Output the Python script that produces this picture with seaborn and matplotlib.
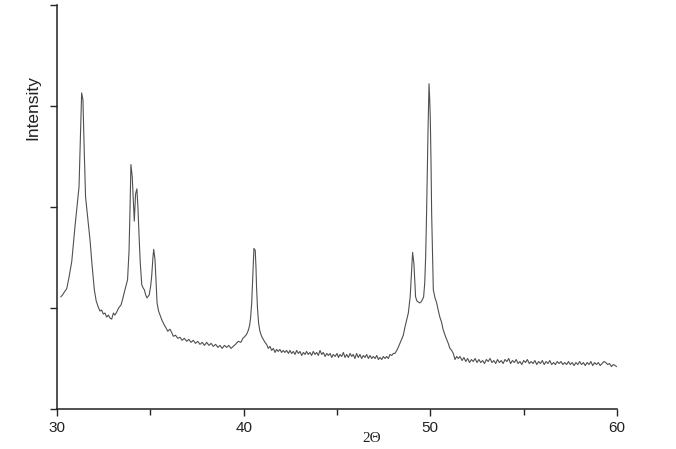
import matplotlib
matplotlib.use("Agg")
import matplotlib.pyplot as plt
import seaborn as sns

# XRD pattern, values (arbitrary intensity units)
two_theta = [
    30.20, 30.30, 30.40, 30.52, 30.64, 30.79, 30.96, 31.08, 31.18, 31.25,
    31.32, 31.39, 31.46, 31.53, 31.65, 31.77, 31.88, 32.00, 32.10, 32.21,
    32.30, 32.39, 32.48, 32.57, 32.66, 32.75, 32.84, 32.93, 33.02, 33.10,
    33.20, 33.30, 33.43, 33.52, 33.64, 33.78, 33.86, 33.92, 33.96, 34.03,
    34.09, 34.14, 34.21, 34.28, 34.34, 34.39, 34.46, 34.54, 34.61, 34.68,
    34.75, 34.82, 34.94, 35.02, 35.07, 35.14, 35.18, 35.25, 35.31, 35.36,
    35.44, 35.52, 35.62, 35.75, 35.85, 35.93, 36.05, 36.14, 36.23, 36.35,
    36.47, 36.59, 36.70, 36.82, 36.95, 37.06, 37.18, 37.30, 37.42, 37.54,
    37.66, 37.78, 37.90, 38.02, 38.14, 38.26, 38.37, 38.50, 38.62, 38.73,
    38.85, 38.97, 39.09, 39.20, 39.32, 39.44, 39.56, 39.71, 39.85, 39.96,
    40.07, 40.16, 40.25, 40.32, 40.37, 40.43, 40.48, 40.52, 40.55, 40.62,
    40.66, 40.69, 40.74, 40.80, 40.87, 40.96, 41.05, 41.14, 41.23, 41.32,
    41.41, 41.50, 41.59, 41.68, 41.76, 41.85, 41.94, 42.03, 42.12, 42.21,
    42.30, 42.40, 42.48, 42.57, 42.66, 42.75, 42.84, 42.93, 43.02, 43.11,
    43.20, 43.29, 43.37, 43.46, 43.55, 43.64, 43.73, 43.82, 43.91, 44.00,
    44.09, 44.18, 44.27, 44.36, 44.45, 44.54, 44.63, 44.72, 44.80, 44.90,
    45.00, 45.08, 45.16, 45.25, 45.34, 45.43, 45.52, 45.61, 45.70, 45.79,
    45.87, 45.96, 46.05, 46.14, 46.23, 46.32, 46.41, 46.50, 46.59, 46.68,
    46.77, 46.86, 46.95, 47.04, 47.13, 47.22, 47.30, 47.40, 47.48, 47.57,
    47.66, 47.75, 47.84, 47.93, 48.02, 48.10, 48.20, 48.28, 48.37, 48.46,
    48.55, 48.64, 48.73, 48.82, 48.92, 49.00, 49.05, 49.12, 49.21, 49.28,
    49.36, 49.43, 49.50, 49.57, 49.64, 49.70, 49.75, 49.80, 49.84, 49.88,
    49.93, 49.97, 50.00, 50.04, 50.07, 50.12, 50.16, 50.25, 50.34, 50.42,
    50.51, 50.60, 50.68, 50.75, 50.85, 50.96, 51.05, 51.14, 51.23, 51.32,
    51.41, 51.50, 51.59, 51.70, 51.80, 51.90, 52.00, 52.10, 52.20, 52.30,
    52.40, 52.50, 52.60, 52.70, 52.80, 52.90, 53.00, 53.10, 53.20, 53.30,
    53.40, 53.50, 53.60, 53.70, 53.80, 53.90, 54.00, 54.10, 54.20, 54.30,
    54.40, 54.50, 54.60, 54.70, 54.80, 54.90, 55.00, 55.10, 55.20, 55.30,
    55.40, 55.50, 55.60, 55.70, 55.80, 55.90, 56.00, 56.10, 56.20, 56.30,
    56.40, 56.50, 56.60, 56.70, 56.80, 56.90, 57.00, 57.10, 57.20, 57.30,
    57.40, 57.50, 57.60, 57.70, 57.80, 57.90, 58.00, 58.10, 58.20, 58.30,
    58.40, 58.50, 58.60, 58.70, 58.80, 58.90, 59.00, 59.10, 59.20, 59.30,
    59.40, 59.50, 59.60, 59.70, 59.80, 59.90, 59.98,
]

intensity = [
    1.11, 1.13, 1.16, 1.19, 1.30, 1.46, 1.80, 2.02, 2.20, 2.65,
    3.13, 3.06, 2.55, 2.10, 1.88, 1.67, 1.42, 1.18, 1.07, 1.01,
    0.97, 0.98, 0.94, 0.95, 0.91, 0.93, 0.90, 0.89, 0.95, 0.93,
    0.96, 1.00, 1.03, 1.09, 1.18, 1.28, 1.57, 2.05, 2.42, 2.30,
    2.05, 1.86, 2.13, 2.18, 1.98, 1.74, 1.45, 1.23, 1.20, 1.18,
    1.13, 1.10, 1.13, 1.22, 1.31, 1.50, 1.58, 1.48, 1.25, 1.05,
    0.97, 0.93, 0.88, 0.83, 0.80, 0.77, 0.79, 0.76, 0.72, 0.73,
    0.70, 0.71, 0.68, 0.70, 0.67, 0.69, 0.66, 0.68, 0.65, 0.67,
    0.64, 0.66, 0.63, 0.66, 0.63, 0.65, 0.62, 0.64, 0.61, 0.63,
    0.60, 0.63, 0.61, 0.63, 0.60, 0.62, 0.64, 0.67, 0.66, 0.70,
    0.72, 0.74, 0.78, 0.83, 0.90, 1.05, 1.28, 1.48, 1.59, 1.57,
    1.40, 1.21, 1.00, 0.85, 0.77, 0.72, 0.69, 0.66, 0.64, 0.60,
    0.62, 0.58, 0.60, 0.56, 0.59, 0.57, 0.59, 0.56, 0.58, 0.56,
    0.58, 0.55, 0.58, 0.55, 0.57, 0.54, 0.58, 0.55, 0.57, 0.53,
    0.56, 0.54, 0.57, 0.54, 0.56, 0.53, 0.57, 0.54, 0.56, 0.53,
    0.58, 0.54, 0.56, 0.52, 0.55, 0.53, 0.55, 0.51, 0.54, 0.52,
    0.55, 0.51, 0.54, 0.52, 0.56, 0.51, 0.54, 0.51, 0.55, 0.52,
    0.54, 0.50, 0.55, 0.51, 0.54, 0.50, 0.53, 0.51, 0.54, 0.50,
    0.53, 0.50, 0.52, 0.50, 0.53, 0.49, 0.51, 0.49, 0.52, 0.50,
    0.52, 0.50, 0.54, 0.53, 0.55, 0.55, 0.58, 0.61, 0.65, 0.69,
    0.73, 0.81, 0.88, 0.95, 1.11, 1.38, 1.55, 1.44, 1.11, 1.07,
    1.06, 1.05, 1.06, 1.08, 1.11, 1.25, 1.51, 1.95, 2.37, 2.80,
    3.22, 3.05, 2.86, 2.40, 1.94, 1.50, 1.18, 1.10, 1.05, 0.98,
    0.91, 0.86, 0.79, 0.75, 0.70, 0.65, 0.60, 0.58, 0.55, 0.49,
    0.52, 0.50, 0.52, 0.48, 0.51, 0.47, 0.50, 0.46, 0.49, 0.47,
    0.50, 0.46, 0.49, 0.46, 0.48, 0.45, 0.49, 0.47, 0.50, 0.46,
    0.48, 0.45, 0.49, 0.46, 0.48, 0.45, 0.49, 0.47, 0.50, 0.45,
    0.48, 0.46, 0.49, 0.45, 0.47, 0.44, 0.48, 0.46, 0.49, 0.45,
    0.47, 0.45, 0.48, 0.44, 0.47, 0.45, 0.48, 0.44, 0.47, 0.45,
    0.48, 0.44, 0.46, 0.44, 0.47, 0.45, 0.47, 0.44, 0.46, 0.44,
    0.47, 0.44, 0.46, 0.43, 0.46, 0.44, 0.47, 0.44, 0.46, 0.43,
    0.46, 0.44, 0.47, 0.43, 0.46, 0.44, 0.46, 0.43, 0.45, 0.47,
    0.46, 0.44, 0.45, 0.42, 0.44, 0.43, 0.42,
]

x_ticks = [30, 40, 50, 60]
x_minor = [35, 45, 55]
y_ticks = [0, 1, 2, 3, 4]

sns.set_style("ticks")
plt.rcParams["font.family"] = ["Liberation Sans", "DejaVu Sans"]

fig = plt.figure(figsize=(6.76, 4.49), dpi=100)
ax = fig.add_axes([57 / 676, 40 / 449, 560 / 676, 404 / 449])

sns.lineplot(x=two_theta, y=intensity, ax=ax, color="#505050", linewidth=0.8,
             sort=False, estimator=None)

ax.set_xlim(30, 60)
ax.set_ylim(0, 4)
ax.set_xticks(x_ticks)
ax.set_xticks(x_minor, minor=True)
ax.set_xticklabels([str(t) for t in x_ticks], fontsize=11, color="#222222")
ax.set_yticks(y_ticks)
ax.set_yticklabels([])
ax.tick_params(axis="x", which="major", length=5, width=1, direction="out", pad=4)
ax.tick_params(axis="x", which="minor", length=4, width=1, direction="out")
ax.tick_params(axis="y", length=5, width=1, direction="out")

sns.despine(ax=ax)
for side in ["left", "bottom"]:
    ax.spines[side].set_linewidth(1.1)
    ax.spines[side].set_color("#222222")

ax.set_ylabel("Intensity", fontsize=12.5, color="#222222")
ax.yaxis.set_label_coords(-0.029, 0.745)
ax.set_xlabel("2\u0398", fontsize=11, family=["Liberation Serif", "DejaVu Serif"],
              color="#222222")
ax.xaxis.set_label_coords(0.5625, -0.056)

fig.savefig("out.png", dpi=100)
plt.close(fig)
